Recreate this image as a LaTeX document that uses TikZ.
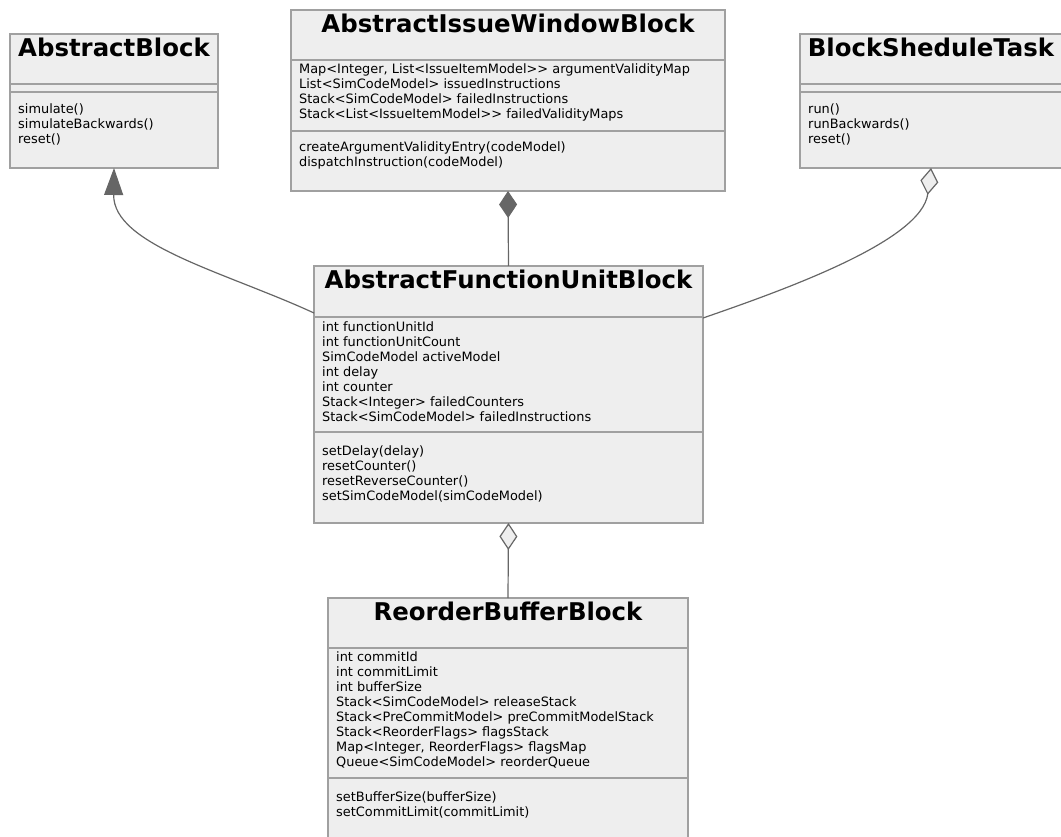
\documentclass[tikz,border=0pt]{standalone}
\usepackage{fontspec}
\setmainfont{DejaVu Sans}
\usetikzlibrary{arrows.meta}
\definecolor{boxfill}{HTML}{EEEEEE}
\definecolor{boxline}{HTML}{A0A0A0}
\definecolor{linkline}{HTML}{666666}
\newcommand{\gtgt}{>{}>}
\newcommand{\memberlist}[1]{\parbox[t]{430pt}{\fontsize{12.9}{15}\selectfont #1}}
\tikzset{
  classbox/.style={draw=boxline, fill=boxfill, line width=1.5pt, inner sep=0pt, outer sep=0pt, anchor=north west, rectangle},
  sepline/.style={draw=boxline, line width=1.5pt},
  classtitle/.style={anchor=base, inner sep=0pt, font=\fontsize{24.4}{26}\selectfont\bfseries},
  members/.style={anchor=base west, inner sep=0pt},
  link/.style={draw=linkline, line width=1.2pt},
  inherits/.style={link, -{Triangle[length=27pt, width=19pt, fill=linkline]}},
  composes/.style={link, -{Diamond[length=27pt, width=18pt, fill=linkline]}},
  aggregates/.style={link, -{Diamond[length=27pt, width=18pt, fill=boxfill]}},
}
\begin{document}
\begin{tikzpicture}[x=1pt, y=-1pt]
\useasboundingbox (0,0) rectangle (1061,837);
\clip (0,0) rectangle (1061,837);

% AbstractBlock
\node[classbox, minimum width=208pt, minimum height=134pt] (ab) at (10,34) {};
\draw[sepline] (10,84) -- (218,84);
\draw[sepline] (10,92) -- (218,92);
\node[classtitle] (abT) at ([yshift=-23pt]ab.north) {AbstractBlock};
\node[members] (abM) at (18,113.5) {\memberlist{simulate()\\simulateBackwards()\\reset()}};

% AbstractIssueWindowBlock
\node[classbox, minimum width=434pt, minimum height=181pt] (aiwb) at (291,10) {};
\draw[sepline] (291,60) -- (725,60);
\draw[sepline] (291,131) -- (725,131);
\node[classtitle] (aiwbT) at ([yshift=-23pt]aiwb.north) {AbstractIssueWindowBlock};
\node[members] (aiwbA) at (299,74) {\memberlist{Map<Integer, List<IssueItemModel\gtgt{} argumentValidityMap\\List<SimCodeModel> issuedInstructions\\Stack<SimCodeModel> failedInstructions\\Stack<List<IssueItemModel\gtgt{} failedValidityMaps}};
\node[members] (aiwbM) at (299,152) {\memberlist{createArgumentValidityEntry(codeModel)\\dispatchInstruction(codeModel)}};

% BlockSheduleTask
\node[classbox, minimum width=262pt, minimum height=134pt] (bst) at (800,34) {};
\draw[sepline] (800,84) -- (1062,84);
\draw[sepline] (800,92) -- (1062,92);
\node[classtitle] (bstT) at ([yshift=-23pt]bst.north) {BlockSheduleTask};
\node[members] (bstM) at (808,113.5) {\memberlist{run()\\runBackwards()\\reset()}};

% AbstractFunctionUnitBlock
\node[classbox, minimum width=389pt, minimum height=257pt] (afub) at (314,266) {};
\draw[sepline] (314,317) -- (703,317);
\draw[sepline] (314,432) -- (703,432);
\node[classtitle] (afubT) at ([yshift=-22.5pt]afub.north) {AbstractFunctionUnitBlock};
\node[members] (afubA) at (322,331.5) {\memberlist{int functionUnitId\\int functionUnitCount\\SimCodeModel activeModel\\int delay\\int counter\\Stack<Integer> failedCounters\\Stack<SimCodeModel> failedInstructions}};
\node[members] (afubM) at (322,455) {\memberlist{setDelay(delay)\\resetCounter()\\resetReverseCounter()\\setSimCodeModel(simCodeModel)}};

% ReorderBufferBlock
\node[classbox, minimum width=360pt, minimum height=260pt] (rbb) at (328,598) {};
\draw[sepline] (328,648) -- (688,648);
\draw[sepline] (328,778) -- (688,778);
\node[classtitle] (rbbT) at ([yshift=-22.5pt]rbb.north) {ReorderBufferBlock};
\node[members] (rbbA) at (336,661.5) {\memberlist{int commitId\\int commitLimit\\int bufferSize\\Stack<SimCodeModel> releaseStack\\Stack<PreCommitModel> preCommitModelStack\\Stack<ReorderFlags> flagsStack\\Map<Integer, ReorderFlags> flagsMap\\Queue<SimCodeModel> reorderQueue}};
\node[members] (rbbM) at (336,801) {\memberlist{setBufferSize(bufferSize)\\setCommitLimit(commitLimit)}};

% relations
\draw[inherits] ([yshift=-47pt]afub.north west) .. controls (225,272) and (113,245) .. (ab.south);
\draw[composes] (afub.north) -- (aiwb.south);
\draw[aggregates] ([yshift=-52pt]afub.north east) .. controls (790,288) and (922,240) .. (bst.south);
\draw[aggregates] (rbb.north) -- (afub.south);
\end{tikzpicture}
\end{document}
